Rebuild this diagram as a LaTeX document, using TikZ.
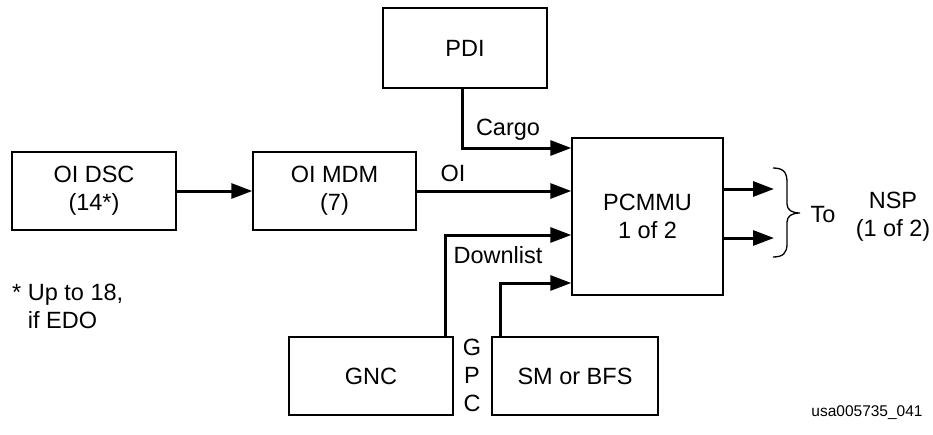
\documentclass[tikz,border=0pt]{standalone}
\usepackage{fontspec}
\setmainfont{Liberation Sans}
\usetikzlibrary{arrows.meta}
\begin{document}
\begin{tikzpicture}[x=1pt,y=-1pt,
  every node/.style={font=\fontsize{23.5}{28}\selectfont, inner sep=0pt},
  blk/.style={draw, line width=1.4pt, rectangle, align=center},
  arr/.style={line width=3pt, -{Triangle[length=21pt,width=15pt]}},
  lbl/.style={align=center}]
\useasboundingbox[fill=white] (0,0) rectangle (933,434);
\node[blk, minimum width=164pt, minimum height=80pt] (PDI) at (465,48) {PDI};
\node[blk, minimum width=164pt, minimum height=78pt] (DSC) at (94,191) {OI DSC\\(14*)};
\node[blk, minimum width=163pt, minimum height=78pt] (MDM) at (334.5,191) {OI MDM\\(7)};
\node[blk, minimum width=151pt, minimum height=157pt] (PCM) at (647.5,216.5) {PCMMU\\1 of 2};
\node[blk, minimum width=164pt, minimum height=78pt] (GNC) at (371,376) {GNC};
\node[blk, minimum width=166pt, minimum height=78pt] (SM) at (575,376) {SM or BFS};

\draw[arr] (DSC) -- (MDM);
\draw[arr] (MDM.east) -- (PCM.west |- MDM.east);
\draw[arr] ([xshift=-3pt]PDI.south) |- (PCM.west |- 0,148);
\draw[arr] ([xshift=-8pt]GNC.north east) |- (PCM.west |- 0,235);
\draw[arr] ([xshift=9pt]SM.north west) |- (PCM.west |- 0,283);

\coordinate (o1) at (774,189);
\coordinate (o2) at (774,238);
\draw[arr] (PCM.east |- o1) -- (o1);
\draw[arr] (PCM.east |- o2) -- (o2);

\draw[line width=1.3pt] (773,168) .. controls (783,168) and (787,172) .. (787,182) -- (787,204)
  .. controls (787,210) and (792,213) .. (800,213)
  .. controls (792,213) and (787,216) .. (787,222) -- (787,244)
  .. controls (787,253) and (783,257) .. (773,257);

\node[lbl] (cargo) at (508,130) {Cargo};
\node[lbl] (oi) at (453,173) {OI};
\node[lbl] (down) at (498,255) {Downlist};
\node[lbl] (gpc) at (472,375) {G\\P\\C};
\node[lbl] (to) at (823,215) {To};
\node[lbl] (nsp) at (893,217) {NSP\\(1 of 2)};
\node[align=left, anchor=north west] (note) at (12,284) {* Up to 18,\\\phantom{* }if EDO};
\node[font=\fontsize{15.5}{18}\selectfont] (id) at (867,413) {usa005735\_041};
\end{tikzpicture}
\end{document}
